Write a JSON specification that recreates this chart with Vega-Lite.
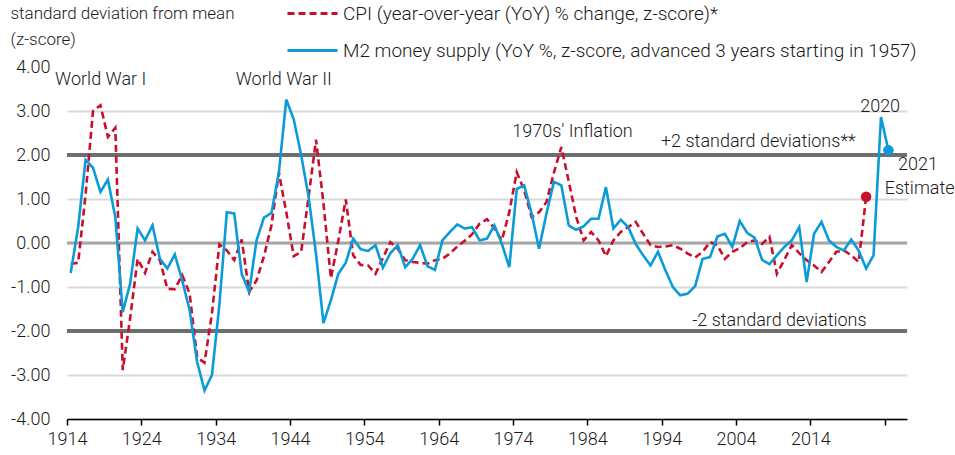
{
  "$schema": "https://vega.github.io/schema/vega-lite/v6.json",
  "width": 840,
  "height": 352,
  "autosize": "none",
  "padding": {"left": 67, "top": 67, "right": 48, "bottom": 36},
  "background": "white",
  "config": {
    "font": "Roboto",
    "view": {"stroke": null},
    "text": {"font": "Roboto"}
  },
  "layer": [
    {
      "data": {"values": [{"level": 2}, {"level": -2}]},
      "mark": {"type": "rule", "color": "#6e6e6e", "strokeWidth": 4},
      "encoding": {"y": {"field": "level", "type": "quantitative", "scale": {"domain": [-4, 4], "nice": false}}}
    },
    {
      "data": {"values": [{"level": 0}]},
      "mark": {"type": "rule", "color": "#a6a6a6", "strokeWidth": 3},
      "encoding": {"y": {"field": "level", "type": "quantitative"}}
    },
    {
      "data": {"values": [
        {"series":"CPI","year":1914,"value":-0.47},{"series":"CPI","year":1915,"value":-0.45},{"series":"CPI","year":1916,"value":1.1},{"series":"CPI","year":1917,"value":3.0},{"series":"CPI","year":1918,"value":3.13},{"series":"CPI","year":1919,"value":2.41},{"series":"CPI","year":1920,"value":2.62},{"series":"CPI","year":1921,"value":-2.89},{"series":"CPI","year":1922,"value":-1.7},{"series":"CPI","year":1923,"value":-0.36},{"series":"CPI","year":1924,"value":-0.68},{"series":"CPI","year":1925,"value":-0.2},{"series":"CPI","year":1926,"value":-0.39},{"series":"CPI","year":1927,"value":-1.04},{"series":"CPI","year":1928,"value":-1.05},{"series":"CPI","year":1929,"value":-0.73},{"series":"CPI","year":1930,"value":-1.15},{"series":"CPI","year":1931,"value":-2.6},{"series":"CPI","year":1932,"value":-2.72},{"series":"CPI","year":1933,"value":-1.6},{"series":"CPI","year":1934,"value":-0.03},{"series":"CPI","year":1935,"value":-0.17},{"series":"CPI","year":1936,"value":-0.39},{"series":"CPI","year":1937,"value":0.08},{"series":"CPI","year":1938,"value":-1.11},{"series":"CPI","year":1939,"value":-0.85},{"series":"CPI","year":1940,"value":-0.3},{"series":"CPI","year":1941,"value":0.4},{"series":"CPI","year":1942,"value":1.6},{"series":"CPI","year":1943,"value":0.7},{"series":"CPI","year":1944,"value":-0.3},{"series":"CPI","year":1945,"value":-0.2},{"series":"CPI","year":1946,"value":1.05},{"series":"CPI","year":1947,"value":2.35},{"series":"CPI","year":1948,"value":0.9},{"series":"CPI","year":1949,"value":-0.8},{"series":"CPI","year":1950,"value":0.05},{"series":"CPI","year":1951,"value":0.99},{"series":"CPI","year":1952,"value":-0.28},{"series":"CPI","year":1953,"value":-0.5},{"series":"CPI","year":1954,"value":-0.51},{"series":"CPI","year":1955,"value":-0.7},{"series":"CPI","year":1956,"value":-0.34},{"series":"CPI","year":1957,"value":0.02},{"series":"CPI","year":1958,"value":-0.13},{"series":"CPI","year":1959,"value":-0.39},{"series":"CPI","year":1960,"value":-0.43},{"series":"CPI","year":1961,"value":-0.45},{"series":"CPI","year":1962,"value":-0.47},{"series":"CPI","year":1963,"value":-0.39},{"series":"CPI","year":1964,"value":-0.36},{"series":"CPI","year":1965,"value":-0.24},{"series":"CPI","year":1966,"value":-0.08},{"series":"CPI","year":1967,"value":0.05},{"series":"CPI","year":1968,"value":0.2},{"series":"CPI","year":1969,"value":0.44},{"series":"CPI","year":1970,"value":0.54},{"series":"CPI","year":1971,"value":0.33},{"series":"CPI","year":1972,"value":0.06},{"series":"CPI","year":1973,"value":0.7},{"series":"CPI","year":1974,"value":1.61},{"series":"CPI","year":1975,"value":1.2},{"series":"CPI","year":1976,"value":0.59},{"series":"CPI","year":1977,"value":0.7},{"series":"CPI","year":1978,"value":0.93},{"series":"CPI","year":1979,"value":1.6},{"series":"CPI","year":1980,"value":2.18},{"series":"CPI","year":1981,"value":1.4},{"series":"CPI","year":1982,"value":0.59},{"series":"CPI","year":1983,"value":0.06},{"series":"CPI","year":1984,"value":0.25},{"series":"CPI","year":1985,"value":0.06},{"series":"CPI","year":1986,"value":-0.3},{"series":"CPI","year":1987,"value":0.06},{"series":"CPI","year":1988,"value":0.25},{"series":"CPI","year":1989,"value":0.36},{"series":"CPI","year":1990,"value":0.48},{"series":"CPI","year":1991,"value":0.21},{"series":"CPI","year":1992,"value":-0.05},{"series":"CPI","year":1993,"value":-0.09},{"series":"CPI","year":1994,"value":-0.08},{"series":"CPI","year":1995,"value":-0.05},{"series":"CPI","year":1996,"value":-0.13},{"series":"CPI","year":1997,"value":-0.24},{"series":"CPI","year":1998,"value":-0.33},{"series":"CPI","year":1999,"value":-0.2},{"series":"CPI","year":2000,"value":0.02},{"series":"CPI","year":2001,"value":-0.05},{"series":"CPI","year":2002,"value":-0.36},{"series":"CPI","year":2003,"value":-0.2},{"series":"CPI","year":2004,"value":-0.12},{"series":"CPI","year":2005,"value":0.02},{"series":"CPI","year":2006,"value":0.06},{"series":"CPI","year":2007,"value":-0.02},{"series":"CPI","year":2008,"value":0.14},{"series":"CPI","year":2009,"value":-0.7},{"series":"CPI","year":2010,"value":-0.38},{"series":"CPI","year":2011,"value":-0.05},{"series":"CPI","year":2012,"value":-0.23},{"series":"CPI","year":2013,"value":-0.39},{"series":"CPI","year":2014,"value":-0.51},{"series":"CPI","year":2015,"value":-0.66},{"series":"CPI","year":2016,"value":-0.43},{"series":"CPI","year":2017,"value":-0.2},{"series":"CPI","year":2018,"value":-0.17},{"series":"CPI","year":2019,"value":-0.28},{"series":"CPI","year":2020,"value":-0.43},{"series":"CPI","year":2021,"value":1.05},
        {"series":"M2","year":1914,"value":-0.68},{"series":"M2","year":1915,"value":0.36},{"series":"M2","year":1916,"value":1.89},{"series":"M2","year":1917,"value":1.71},{"series":"M2","year":1918,"value":1.16},{"series":"M2","year":1919,"value":1.44},{"series":"M2","year":1920,"value":0.59},{"series":"M2","year":1921,"value":-1.57},{"series":"M2","year":1922,"value":-0.92},{"series":"M2","year":1923,"value":0.33},{"series":"M2","year":1924,"value":0.06},{"series":"M2","year":1925,"value":0.4},{"series":"M2","year":1926,"value":-0.36},{"series":"M2","year":1927,"value":-0.58},{"series":"M2","year":1928,"value":-0.26},{"series":"M2","year":1929,"value":-0.85},{"series":"M2","year":1930,"value":-1.53},{"series":"M2","year":1931,"value":-2.7},{"series":"M2","year":1932,"value":-3.35},{"series":"M2","year":1933,"value":-3.0},{"series":"M2","year":1934,"value":-1.4},{"series":"M2","year":1935,"value":0.7},{"series":"M2","year":1936,"value":0.67},{"series":"M2","year":1937,"value":-0.7},{"series":"M2","year":1938,"value":-1.11},{"series":"M2","year":1939,"value":0.06},{"series":"M2","year":1940,"value":0.58},{"series":"M2","year":1941,"value":0.68},{"series":"M2","year":1942,"value":1.6},{"series":"M2","year":1943,"value":3.26},{"series":"M2","year":1944,"value":2.81},{"series":"M2","year":1945,"value":2.0},{"series":"M2","year":1946,"value":1.05},{"series":"M2","year":1947,"value":-0.25},{"series":"M2","year":1948,"value":-1.82},{"series":"M2","year":1949,"value":-1.3},{"series":"M2","year":1950,"value":-0.7},{"series":"M2","year":1951,"value":-0.45},{"series":"M2","year":1952,"value":0.1},{"series":"M2","year":1953,"value":-0.14},{"series":"M2","year":1954,"value":-0.18},{"series":"M2","year":1955,"value":-0.05},{"series":"M2","year":1956,"value":-0.56},{"series":"M2","year":1957,"value":-0.23},{"series":"M2","year":1958,"value":-0.05},{"series":"M2","year":1959,"value":-0.55},{"series":"M2","year":1960,"value":-0.36},{"series":"M2","year":1961,"value":-0.05},{"series":"M2","year":1962,"value":-0.53},{"series":"M2","year":1963,"value":-0.61},{"series":"M2","year":1964,"value":0.06},{"series":"M2","year":1965,"value":0.25},{"series":"M2","year":1966,"value":0.42},{"series":"M2","year":1967,"value":0.33},{"series":"M2","year":1968,"value":0.36},{"series":"M2","year":1969,"value":0.06},{"series":"M2","year":1970,"value":0.1},{"series":"M2","year":1971,"value":0.4},{"series":"M2","year":1972,"value":-0.02},{"series":"M2","year":1973,"value":-0.55},{"series":"M2","year":1974,"value":1.23},{"series":"M2","year":1975,"value":1.31},{"series":"M2","year":1976,"value":0.67},{"series":"M2","year":1977,"value":-0.13},{"series":"M2","year":1978,"value":0.67},{"series":"M2","year":1979,"value":1.39},{"series":"M2","year":1980,"value":1.31},{"series":"M2","year":1981,"value":0.4},{"series":"M2","year":1982,"value":0.3},{"series":"M2","year":1983,"value":0.38},{"series":"M2","year":1984,"value":0.55},{"series":"M2","year":1985,"value":0.55},{"series":"M2","year":1986,"value":1.27},{"series":"M2","year":1987,"value":0.33},{"series":"M2","year":1988,"value":0.53},{"series":"M2","year":1989,"value":0.36},{"series":"M2","year":1990,"value":-0.02},{"series":"M2","year":1991,"value":-0.28},{"series":"M2","year":1992,"value":-0.51},{"series":"M2","year":1993,"value":-0.2},{"series":"M2","year":1994,"value":-0.62},{"series":"M2","year":1995,"value":-1.0},{"series":"M2","year":1996,"value":-1.19},{"series":"M2","year":1997,"value":-1.15},{"series":"M2","year":1998,"value":-0.98},{"series":"M2","year":1999,"value":-0.36},{"series":"M2","year":2000,"value":-0.32},{"series":"M2","year":2001,"value":0.15},{"series":"M2","year":2002,"value":0.21},{"series":"M2","year":2003,"value":-0.09},{"series":"M2","year":2004,"value":0.5},{"series":"M2","year":2005,"value":0.23},{"series":"M2","year":2006,"value":0.12},{"series":"M2","year":2007,"value":-0.38},{"series":"M2","year":2008,"value":-0.48},{"series":"M2","year":2009,"value":-0.28},{"series":"M2","year":2010,"value":-0.09},{"series":"M2","year":2011,"value":0.06},{"series":"M2","year":2012,"value":0.36},{"series":"M2","year":2013,"value":-0.89},{"series":"M2","year":2014,"value":0.21},{"series":"M2","year":2015,"value":0.48},{"series":"M2","year":2016,"value":0.06},{"series":"M2","year":2017,"value":-0.09},{"series":"M2","year":2018,"value":-0.17},{"series":"M2","year":2019,"value":0.08},{"series":"M2","year":2020,"value":-0.17},{"series":"M2","year":2021,"value":-0.58},{"series":"M2","year":2022,"value":-0.28},{"series":"M2","year":2023,"value":2.86},{"series":"M2","year":2024,"value":2.11}
      ]},
      "layer": [
        {
          "mark": {"type": "line", "strokeWidth": 2.6, "clip": false},
          "encoding": {
            "x": {
              "field": "year", "type": "quantitative",
              "scale": {"domain": [1913.5, 2026.5], "nice": false, "zero": false},
              "axis": {
                "values": [1913.5, 1923.5, 1933.5, 1943.5, 1953.5, 1963.5, 1973.5, 1983.5, 1993.5, 2003.5, 2013.5, 2023.5],
                "labelExpr": "datum.value > 2020 ? '' : format(datum.value + 0.5, 'd')",
                "labelFlush": false, "labelOverlap": false, "labelBound": false,
                "domainColor": "#000000", "domainWidth": 1.5,
                "tickColor": "#000000", "tickWidth": 1.5, "tickSize": 6,
                "labelFontSize": 18, "labelFontWeight": 300, "labelColor": "#1a1a1a", "labelPadding": 5,
                "grid": false, "title": null
              }
            },
            "y": {
              "field": "value", "type": "quantitative",
              "scale": {"domain": [-4, 4], "nice": false},
              "axis": {
                "values": [-4, -3, -2, -1, 0, 1, 2, 3, 4],
                "labelExpr": "replace(format(datum.value, '.2f'), '\u2212', '-')",
                "domain": false, "ticks": false, "labelPadding": 17,
                "labelFontSize": 18, "labelFontWeight": 300, "labelColor": "#1a1a1a",
                "grid": true, "gridColor": "#d9d9d9", "gridWidth": 2,
                "gridOpacity": {"condition": {"test": "datum.value === 4", "value": 0}, "value": 1},
                "title": ["standard deviation from mean", "(z-score)"],
                "titleAngle": 0, "titleAlign": "left", "titleBaseline": "top",
                "titleX": -57, "titleY": -62, "titleFontSize": 17, "titleFontWeight": 300,
                "titleColor": "#1a1a1a", "titleLineHeight": 26
              }
            },
            "color": {
              "field": "series", "type": "nominal",
              "scale": {"domain": ["CPI", "M2"], "range": ["#c8102e", "#0a9bd8"]},
              "legend": {
                "orient": "none", "legendX": 219, "legendY": -80, "title": null,
                "symbolType": "stroke", "symbolSize": 2500, "symbolStrokeWidth": 3,
                "rowPadding": -31, "labelOffset": 4, "padding": 0,
                "labelFontSize": 19, "labelFontWeight": 300, "labelColor": "#1a1a1a", "labelLimit": 800,
                "labelExpr": "datum.label == 'CPI' ? 'CPI (year-over-year (YoY) % change, z-score)*' : 'M2 money supply (YoY %, z-score, advanced 3 years starting in 1957)'"
              }
            },
            "strokeDash": {
              "field": "series", "type": "nominal",
              "scale": {"domain": ["CPI", "M2"], "range": [[7, 4], [1, 0]]},
              "legend": {
                "orient": "none", "legendX": 219, "legendY": -80, "title": null,
                "symbolType": "stroke", "symbolSize": 2500, "symbolStrokeWidth": 3,
                "rowPadding": -31, "labelOffset": 4, "padding": 0,
                "labelFontSize": 19, "labelFontWeight": 300, "labelColor": "#1a1a1a", "labelLimit": 800,
                "labelExpr": "datum.label == 'CPI' ? 'CPI (year-over-year (YoY) % change, z-score)*' : 'M2 money supply (YoY %, z-score, advanced 3 years starting in 1957)'"
              }
            }
          }
        },
        {
          "transform": [{"filter": "(datum.series == 'CPI' && datum.year == 2021) || (datum.series == 'M2' && datum.year == 2024)"}],
          "mark": {"type": "point", "filled": true, "opacity": 1, "size": 110, "clip": false},
          "encoding": {
            "x": {"field": "year", "type": "quantitative"},
            "y": {"field": "value", "type": "quantitative"},
            "color": {"field": "series", "type": "nominal", "legend": null}
          }
        }
      ]
    },
    {
      "data": {"values": [
        {"x": 1911.9, "y": 3.7, "label": "World War I"},
        {"x": 1936.2, "y": 3.7, "label": "World War II"},
        {"x": 1973.4, "y": 2.53, "label": "1970s' Inflation"},
        {"x": 1993.4, "y": 2.3, "label": "+2 standard deviations**"},
        {"x": 1997.6, "y": -1.78, "label": "-2 standard deviations"},
        {"x": 2020.2, "y": 3.08, "label": "2020"},
        {"x": 2025.3, "y": 1.77, "label": "2021"},
        {"x": 2023.5, "y": 1.22, "label": "Estimate"}
      ]},
      "mark": {"type": "text", "align": "left", "baseline": "middle", "fontSize": 18, "fontWeight": 300, "color": "#1a1a1a", "clip": false},
      "encoding": {
        "x": {"field": "x", "type": "quantitative"},
        "y": {"field": "y", "type": "quantitative"},
        "text": {"field": "label"}
      }
    }
  ]
}
